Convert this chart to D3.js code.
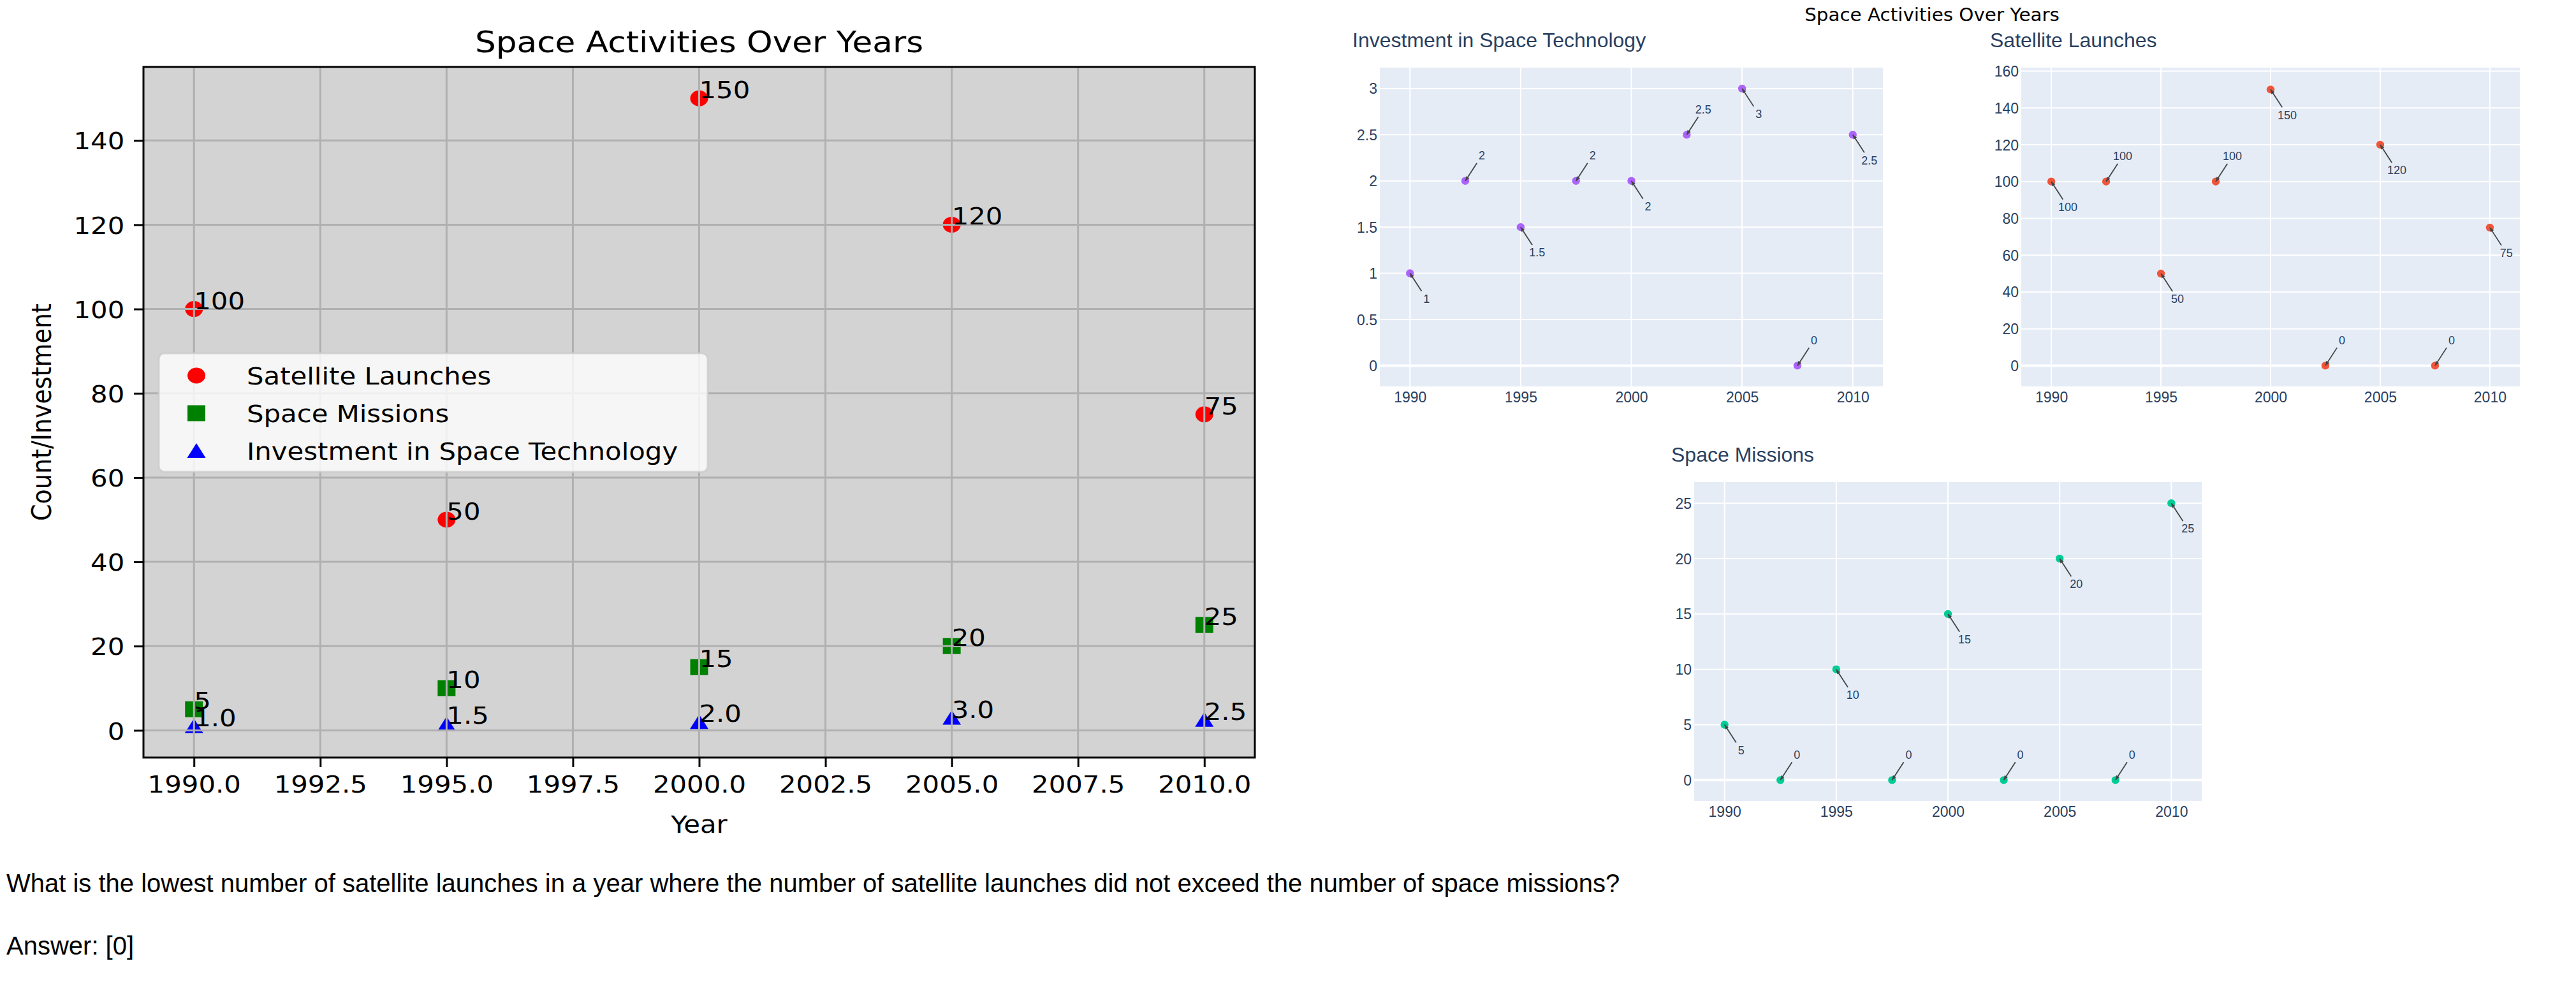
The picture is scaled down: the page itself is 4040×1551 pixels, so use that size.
<!DOCTYPE html>
<html><head><meta charset="utf-8">
<script src="https://cdn.jsdelivr.net/npm/d3@7"></script>
<style>body{margin:0;background:#fff;overflow:hidden}</style>
</head><body>
<svg id="c" width="4040" height="1551" xmlns="http://www.w3.org/2000/svg"></svg>
<script>
// ---------- data (left matplotlib-style chart) ----------
const years = [1990, 1995, 2000, 2005, 2010];
const satelliteLaunches = [100, 50, 150, 120, 75];
const spaceMissions = [5, 10, 15, 20, 25];
const investment = [1.0, 1.5, 2.0, 3.0, 2.5];
const leftXTicks = [1990, 1992.5, 1995, 1997.5, 2000, 2002.5, 2005, 2007.5, 2010];
const leftYTicks = [0, 20, 40, 60, 80, 100, 120, 140];
const seriesNames = ["Satellite Launches", "Space Missions", "Investment in Space Technology"];

// ---------- data (right subplot charts) ----------
const subYears = [1990, 1992.5, 1995, 1997.5, 2000, 2002.5, 2005, 2007.5, 2010];
const subInvestment = [1, 2, 1.5, 2, 2, 2.5, 3, 0, 2.5];
const subSatellite = [100, 100, 50, 100, 150, 0, 120, 0, 75];
const subMissions = [5, 0, 10, 0, 15, 0, 20, 0, 25];
const subXTicks = [1990, 1995, 2000, 2005, 2010];
const investTicks = [0, 0.5, 1, 1.5, 2, 2.5, 3];
const satTicks = [0, 20, 40, 60, 80, 100, 120, 140, 160];
const missionTicks = [0, 5, 10, 15, 20, 25];

const question = "What is the lowest number of satellite launches in a year where the number of satellite launches did not exceed the number of space missions?";
const answer = "Answer: [0]";

const svg = d3.select("#c");
svg.append("rect").attr("width", 4040).attr("height", 1551).attr("fill", "#fff");

// =============== LEFT CHART ===============
const MPL = "'DejaVu Sans', sans-serif";
const FS = 38, SX = 1.1;
const L = {x0: 225, x1: 1968, y0: 105, y1: 1188};
const lx = d3.scaleLinear().domain([1989, 2011]).range([L.x0, L.x1]);
const ly = d3.scaleLinear().domain([-6.45, 157.45]).range([L.y1, L.y0]);

const left = svg.append("g");
left.append("rect").attr("x", L.x0).attr("y", L.y0).attr("width", L.x1 - L.x0).attr("height", L.y1 - L.y0).attr("fill", "#d3d3d3");

function markerPath(kind) {
  if (kind === "circle") return "M-14,0 A14,12.5 0 1,0 14,0 A14,12.5 0 1,0 -14,0 Z";
  if (kind === "square") return "M-14,-12.5 L14,-12.5 L14,12.5 L-14,12.5 Z";
  return "M0,-12 L14.5,11 L-14.5,11 Z";
}
const leftSeries = [
  {vals: satelliteLaunches, color: "red", kind: "circle", fmt: d => String(d)},
  {vals: spaceMissions, color: "green", kind: "square", fmt: d => String(d)},
  {vals: investment, color: "blue", kind: "triangle", fmt: d3.format(".1f")}
];
leftSeries.forEach(s => {
  left.append("g").selectAll("path").data(years).join("path")
    .attr("d", markerPath(s.kind))
    .attr("transform", (d, i) => `translate(${lx(d)},${ly(s.vals[i])})`)
    .attr("fill", s.color);
});
// grid (drawn over markers like matplotlib)
const grid = left.append("g").attr("stroke", "#b0b0b0").attr("stroke-width", 3);
grid.selectAll("line.gx").data(leftXTicks).join("line").attr("class", "gx")
  .attr("x1", d => lx(d)).attr("x2", d => lx(d)).attr("y1", L.y0).attr("y2", L.y1);
grid.selectAll("line.gy").data(leftYTicks).join("line").attr("class", "gy")
  .attr("y1", d => ly(d)).attr("y2", d => ly(d)).attr("x1", L.x0).attr("x2", L.x1);

// value labels
leftSeries.forEach(s => {
  left.append("g").selectAll("text").data(years).join("text")
    .attr("transform", (d, i) => `translate(${lx(d)},${ly(s.vals[i])}) scale(${SX},1)`)
    .attr("font-family", MPL).attr("font-size", FS).attr("fill", "#000")
    .text((d, i) => s.fmt(s.vals[i]));
});

// frame
left.append("rect").attr("x", L.x0).attr("y", L.y0).attr("width", L.x1 - L.x0).attr("height", L.y1 - L.y0)
  .attr("fill", "none").attr("stroke", "#000").attr("stroke-width", 3);

// axes
const xAx = left.append("g").attr("transform", `translate(0,${L.y1})`)
  .call(d3.axisBottom(lx).tickValues(leftXTicks).tickFormat(d3.format(".1f")).tickSize(15).tickPadding(13));
const yAx = left.append("g").attr("transform", `translate(${L.x0},0)`)
  .call(d3.axisLeft(ly).tickValues(leftYTicks).tickSize(15).tickPadding(12));
[xAx, yAx].forEach(a => {
  a.select(".domain").remove();
  a.selectAll(".tick line").attr("stroke", "#000").attr("stroke-width", 3);
  a.selectAll(".tick text").attr("font-family", MPL).attr("font-size", FS).attr("fill", "#000")
    .attr("transform", `scale(${SX},1)`);
});
yAx.selectAll(".tick text").attr("dy", "0.36em");

// titles
left.append("text").attr("transform", `translate(${(L.x0 + L.x1) / 2},82) scale(${SX},1)`)
  .attr("text-anchor", "middle").attr("font-family", MPL).attr("font-size", 47).text("Space Activities Over Years");
left.append("text").attr("transform", `translate(${(L.x0 + L.x1) / 2},1306) scale(${SX},1)`)
  .attr("text-anchor", "middle").attr("font-family", MPL).attr("font-size", FS).text("Year");
left.append("text").attr("transform", `translate(80,${(L.y0 + L.y1) / 2}) scale(${SX},1) rotate(-90)`)
  .attr("text-anchor", "middle").attr("font-family", MPL).attr("font-size", FS).text("Count/Investment");

// legend
const lg = left.append("g");
lg.append("rect").attr("x", 249).attr("y", 554).attr("width", 861).attr("height", 186).attr("rx", 9)
  .attr("fill", "#fff").attr("fill-opacity", 0.8).attr("stroke", "#cccccc").attr("stroke-opacity", 0.8).attr("stroke-width", 3);
const legY = [589, 648, 707];
leftSeries.forEach((s, i) => {
  lg.append("path").attr("d", markerPath(s.kind)).attr("transform", `translate(308,${legY[i]})`).attr("fill", s.color);
  lg.append("text").attr("transform", `translate(387,${legY[i]}) scale(${SX},1)`).attr("dy", "0.36em")
    .attr("font-family", MPL).attr("font-size", FS).attr("fill", "#000").text(seriesNames[i]);
});

// =============== RIGHT SUBPLOTS ===============
const PF = "'Liberation Sans', Arial, Helvetica, sans-serif";
const PC = "#2a3f5f";
svg.append("text").attr("transform", "translate(3030,33) scale(1.05,1)").attr("text-anchor", "middle")
  .attr("font-family", MPL).attr("font-size", 28).attr("fill", "#000").text("Space Activities Over Years");

function subplot(cfg) {
  const g = svg.append("g");
  const x = d3.scaleLinear().domain(cfg.xd).range([cfg.x0, cfg.x1]);
  const y = d3.scaleLinear().domain(cfg.yd).range([cfg.y1, cfg.y0]);
  g.append("rect").attr("x", cfg.x0).attr("y", cfg.y0).attr("width", cfg.x1 - cfg.x0).attr("height", cfg.y1 - cfg.y0).attr("fill", "#E5ECF6");
  g.append("g").selectAll("line").data(subXTicks).join("line")
    .attr("x1", d => x(d)).attr("x2", d => x(d)).attr("y1", cfg.y0).attr("y2", cfg.y1)
    .attr("stroke", "#fff").attr("stroke-width", 2);
  g.append("g").selectAll("line").data(cfg.yt).join("line")
    .attr("y1", d => y(d)).attr("y2", d => y(d)).attr("x1", cfg.x0).attr("x2", cfg.x1)
    .attr("stroke", "#fff").attr("stroke-width", d => d === 0 ? 4 : 2);
  // tick labels
  const xa = g.append("g").attr("transform", `translate(0,${cfg.y1})`)
    .call(d3.axisBottom(x).tickValues(subXTicks).tickFormat(d3.format("d")).tickSize(0).tickPadding(9));
  const ya = g.append("g").attr("transform", `translate(${cfg.x0},0)`)
    .call(d3.axisLeft(y).tickValues(cfg.yt).tickFormat(d3.format("~g")).tickSize(0).tickPadding(4));
  [xa, ya].forEach(a => {
    a.select(".domain").remove();
    a.selectAll("text").attr("font-family", PF).attr("font-size", 23).attr("fill", PC);
  });
  ya.selectAll("text").attr("dy", "0.35em");
  // markers
  g.append("g").selectAll("circle").data(subYears).join("circle")
    .attr("cx", d => x(d)).attr("cy", (d, i) => y(cfg.vals[i])).attr("r", 6.2).attr("fill", cfg.color);
  // annotations
  const an = g.append("g");
  subYears.forEach((d, i) => {
    const px = x(d), py = y(cfg.vals[i]);
    const dir = i % 2 === 0 ? 1 : -1;
    const dx = 26, dy = 40 * dir;
    const t = 0.7;
    an.append("line").attr("x1", px).attr("y1", py).attr("x2", px + dx * t).attr("y2", py + dy * t)
      .attr("stroke", "#444").attr("stroke-width", 1.8);
    const len = Math.hypot(dx, dy), ux = dx / len, uy = dy / len;
    const bx = px + ux * 7, by = py + uy * 7;
    an.append("path").attr("d", `M${px},${py} L${bx - uy * 3},${by + ux * 3} L${bx + uy * 3},${by - ux * 3} Z`).attr("fill", "#444");
    an.append("text").attr("x", px + dx).attr("y", py + dy).attr("dy", "0.35em").attr("text-anchor", "middle")
      .attr("font-family", PF).attr("font-size", 18).attr("fill", PC).text(String(cfg.vals[i]));
  });
  g.append("text").attr("x", cfg.tx).attr("y", cfg.ty).attr("font-family", PF).attr("font-size", 32).attr("fill", PC).text(cfg.title);
}

subplot({x0: 2164, x1: 2953, y0: 106, y1: 606, xd: [1988.64, 2011.36], yd: [-0.225, 3.227],
  yt: investTicks, vals: subInvestment, color: "#AB63FA", title: "Investment in Space Technology", tx: 2121, ty: 74});
subplot({x0: 3170, x1: 3952, y0: 106, y1: 606, xd: [1988.63, 2011.37], yd: [-11.3, 161.9],
  yt: satTicks, vals: subSatellite, color: "#EF553B", title: "Satellite Launches", tx: 3121, ty: 74});
subplot({x0: 2657, x1: 3453, y0: 756, y1: 1256, xd: [1988.64, 2011.36], yd: [-1.88, 26.91],
  yt: missionTicks, vals: subMissions, color: "#00CC96", title: "Space Missions", tx: 2621, ty: 724});

// =============== QUESTION TEXT ===============
svg.append("text").attr("x", 10).attr("y", 1399).attr("font-family", PF).attr("font-size", 40).attr("fill", "#000").text(question);
svg.append("text").attr("x", 10).attr("y", 1497).attr("font-family", PF).attr("font-size", 40).attr("fill", "#000").text(answer);
</script>
</body></html>
